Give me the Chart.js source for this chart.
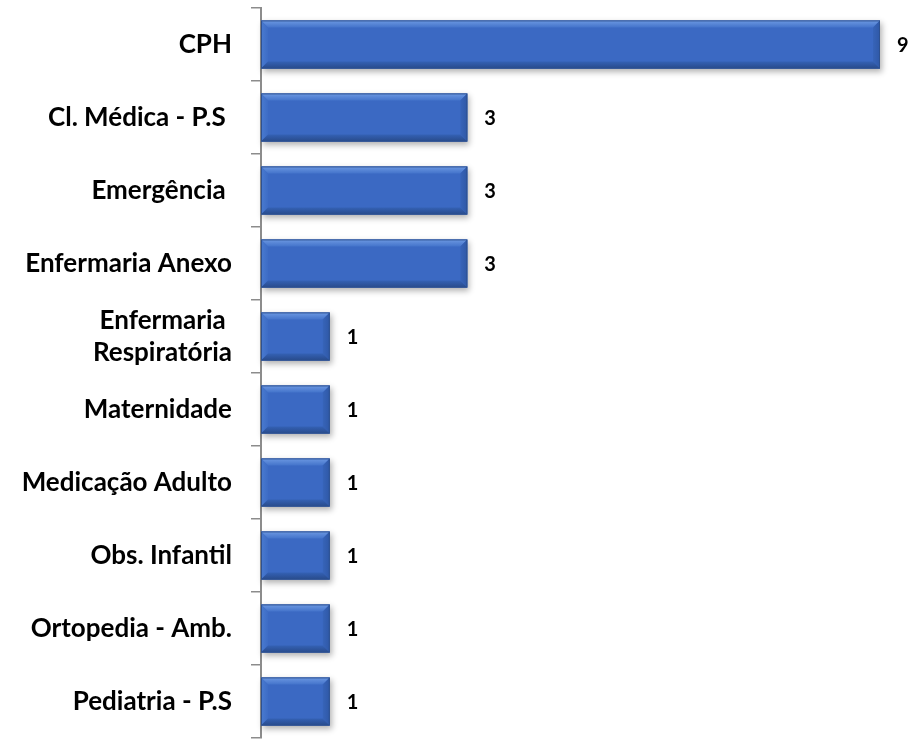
<!DOCTYPE html>
<html>
<head>
<meta charset="utf-8">
<script src="https://cdn.jsdelivr.net/npm/chart.js@4/dist/chart.umd.min.js"></script>
<style>
  html, body { margin: 0; padding: 0; background: #fff; }
  #wrap { width: 908px; height: 740px; position: relative; }
</style>
</head>
<body>
<div id="wrap"><canvas id="chart"></canvas></div>
<script>
const setores = [
    'CPH',
    'Cl. Médica - P.S ',
    'Emergência ',
    'Enfermaria Anexo',
    ['Enfermaria ', 'Respiratória'],
    'Maternidade',
    'Medicação Adulto',
    'Obs. Infantil',
    'Ortopedia - Amb.',
    'Pediatria - P.S'
];
const quantidades = [9, 3, 3, 3, 1, 1, 1, 1, 1, 1];

const cores = {
    fill: '#3b69c3',
    border: '#2e5190',
    axis: '#8c8c8c'
};

// bevel + soft shadow on each bar (office 3d look)
const bevelPlugin = {
    id: 'bevel',
    beforeDatasetsDraw(chart) {
        const ctx = chart.ctx;
        chart.getDatasetMeta(0).data.forEach(bar => {
            const left = Math.min(bar.base, bar.x);
            const w = Math.abs(bar.x - bar.base);
            const top = bar.y - bar.height / 2;
            ctx.save();
            ctx.shadowColor = 'rgba(0,0,0,0.3)';
            ctx.shadowBlur = 6;
            ctx.shadowOffsetX = 2;
            ctx.shadowOffsetY = 3;
            ctx.fillStyle = cores.fill;
            ctx.fillRect(left, top, w, bar.height);
            ctx.restore();
        });
    },
    afterDatasetsDraw(chart) {
        const ctx = chart.ctx;
        const b = 7;
        chart.getDatasetMeta(0).data.forEach(bar => {
            const l = Math.min(bar.base, bar.x);
            const r = Math.max(bar.base, bar.x);
            const t = bar.y - bar.height / 2;
            const btm = bar.y + bar.height / 2;
            ctx.save();
            let g = ctx.createLinearGradient(0, t, 0, t + b);
            g.addColorStop(0, '#6d99e2');
            g.addColorStop(1, '#4474cb');
            ctx.fillStyle = g;
            ctx.beginPath();
            ctx.moveTo(l, t); ctx.lineTo(r, t); ctx.lineTo(r - b, t + b); ctx.lineTo(l + b, t + b);
            ctx.closePath(); ctx.fill();

            g = ctx.createLinearGradient(l, 0, l + b, 0);
            g.addColorStop(0, '#4a7bd0');
            g.addColorStop(1, '#3d6cc5');
            ctx.fillStyle = g;
            ctx.beginPath();
            ctx.moveTo(l, t); ctx.lineTo(l + b, t + b); ctx.lineTo(l + b, btm - b); ctx.lineTo(l, btm);
            ctx.closePath(); ctx.fill();

            g = ctx.createLinearGradient(r - b, 0, r, 0);
            g.addColorStop(0, '#3764b9');
            g.addColorStop(1, '#2f58a6');
            ctx.fillStyle = g;
            ctx.beginPath();
            ctx.moveTo(r, t); ctx.lineTo(r, btm); ctx.lineTo(r - b, btm - b); ctx.lineTo(r - b, t + b);
            ctx.closePath(); ctx.fill();

            g = ctx.createLinearGradient(0, btm - b, 0, btm);
            g.addColorStop(0, '#3461b4');
            g.addColorStop(1, '#284a8a');
            ctx.fillStyle = g;
            ctx.beginPath();
            ctx.moveTo(l, btm); ctx.lineTo(r, btm); ctx.lineTo(r - b, btm - b); ctx.lineTo(l + b, btm - b);
            ctx.closePath(); ctx.fill();

            ctx.strokeStyle = cores.border;
            ctx.lineWidth = 1;
            ctx.strokeRect(l + 0.5, t + 0.5, r - l - 1, btm - t - 1);
            ctx.restore();
        });
    }
};

const valueLabels = {
    id: 'valueLabels',
    afterDatasetsDraw(chart) {
        const ctx = chart.ctx;
        ctx.save();
        ctx.font = 'bold 20px Lato';
        ctx.fillStyle = '#000';
        ctx.textAlign = 'left';
        ctx.textBaseline = 'middle';
        chart.getDatasetMeta(0).data.forEach((bar, i) => {
            ctx.fillText(String(quantidades[i]), bar.x + 17, bar.y + 1);
        });
        ctx.restore();
    }
};

new Chart(document.getElementById('chart'), {
    type: 'bar',
    data: {
        labels: setores,
        datasets: [{
            data: quantidades,
            backgroundColor: 'rgba(0,0,0,0)',
            borderWidth: 0,
            barPercentage: 0.66,
            categoryPercentage: 1
        }]
    },
    options: {
        indexAxis: 'y',
        responsive: true,
        maintainAspectRatio: false,
        animation: false,
        layout: { padding: { top: 8, bottom: 2, right: 28, left: 0 } },
        plugins: {
            legend: { display: false },
            tooltip: { enabled: false }
        },
        scales: {
            x: {
                display: false,
                min: 0,
                max: 9
            },
            y: {
                afterFit(scale) {
                    scale.width = 261;
                    scale.paddingTop = 0;
                    scale.paddingBottom = 0;
                },
                border: { display: true, color: cores.axis, width: 2 },
                grid: {
                    offset: true,
                    drawOnChartArea: false,
                    drawTicks: true,
                    tickLength: 10,
                    color: cores.axis,
                    lineWidth: 1.5
                },
                ticks: {
                    padding: 19,
                    color: '#000',
                    font: { family: 'Lato', weight: 'bold', size: 26, lineHeight: 1.25 }
                }
            }
        }
    },
    plugins: [bevelPlugin, valueLabels]
});
</script>
</body>
</html>
